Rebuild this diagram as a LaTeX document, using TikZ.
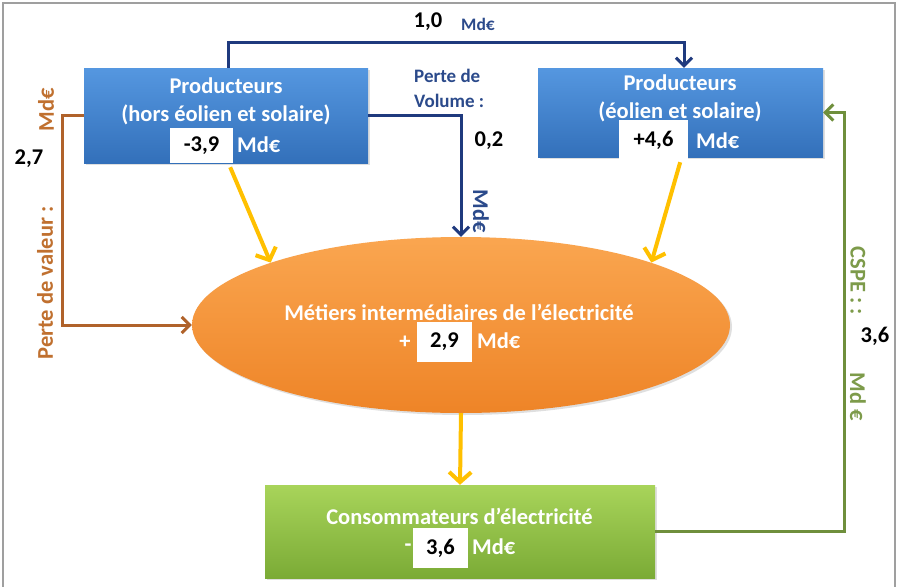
\documentclass[tikz,border=0pt]{standalone}
\usepackage{fontspec}
\setmainfont{Carlito}
\usetikzlibrary{arrows.meta,shapes.geometric,shadows}
\definecolor{navy}{HTML}{1F3A7E}
\definecolor{navytext}{HTML}{2B4A8B}
\definecolor{brownline}{HTML}{B0622A}
\definecolor{browntext}{HTML}{C0702F}
\definecolor{oliveline}{HTML}{6F8F3C}
\definecolor{olivetext}{HTML}{7D9B4A}
\definecolor{gold}{HTML}{FFC000}
\definecolor{blueT}{HTML}{5597E0}
\definecolor{blueB}{HTML}{3370BA}
\definecolor{orangeT}{HTML}{FAA650}
\definecolor{orangeB}{HTML}{EE8427}
\definecolor{greenT}{HTML}{A8D45A}
\definecolor{greenB}{HTML}{7BAB36}
\tikzset{
  shad/.style={drop shadow={opacity=0.25,shadow xshift=2pt,shadow yshift=-2pt}},
  bluebox/.style={rectangle,draw=none,top color=blueT,bottom color=blueB,shad},
  valbox/.style={rectangle,fill=white,draw=none,text=black,inner sep=0pt},
  wtxt/.style={text=white,inner sep=0pt},
  navyline/.style={draw=navy,line width=3pt},
  brownln/.style={draw=brownline,line width=3pt},
  oliveln/.style={draw=oliveline,line width=3pt},
  yarrow/.style={draw=gold,line width=4pt,-{Straight Barb[length=10pt,width=22pt]}},
  ltip/.style={-{Straight Barb[length=8pt,width=16pt]}},
  lbl/.style={inner sep=0pt},
}
\begin{document}
\begin{tikzpicture}[x=1pt,y=-1pt,font=\bfseries\fontsize{22.5}{26}\selectfont]
\useasboundingbox (0,0) rectangle (898,587);
\fill[white] (0,0) rectangle (898,587);
\draw[gray!75,line width=1.5pt] (3,590) -- (3,3) -- (895,3) -- (895,590);

% shapes
\node[bluebox,minimum width=284pt,minimum height=95pt] (L) at (226,115.5) {};
\node[bluebox,minimum width=285pt,minimum height=89pt] (R) at (680.5,112.5) {};
\node[ellipse,draw=none,top color=orangeT,bottom color=orangeB,shad,
      minimum width=538pt,minimum height=176pt] (E) at (461,325) {};
\node[rectangle,draw=none,top color=greenT,bottom color=greenB,shad,
      minimum width=390pt,minimum height=93pt] (G) at (460,531.5) {};

% texts in left box
\node[wtxt] (Lt1) at (226,86) {Producteurs};
\node[wtxt] (Lt2) at (226,115) {(hors éolien et solaire)};
\node[valbox,minimum width=63pt,minimum height=35pt] (v1) at (201.5,145.5) {-3,9};
\node[wtxt,anchor=west] (Lmd) at (237,145) {Md€};

% texts in right box
\node[wtxt] (Rt1) at (680,83) {Producteurs};
\node[wtxt] (Rt2) at (680,112) {(éolien et solaire)};
\node[valbox,minimum width=69pt,minimum height=40pt] (v2) at (653.5,140) {+4,6};
\node[wtxt,anchor=west] (Rmd) at (696,141) {Md€};

% texts in ellipse
\node[wtxt] (Et1) at (459,312) {Métiers intermédiaires de l’électricité};
\node[wtxt] (Eplus) at (405,342) {+};
\node[valbox,minimum width=55pt,minimum height=40pt] (v3) at (444.5,342) {2,9};
\node[wtxt,anchor=west] (Emd) at (477,341) {Md€};

% texts in green box
\node[wtxt] (Gt1) at (459.5,516) {Consommateurs d’électricité};
\node[wtxt] (Gminus) at (408,548) {-};
\node[valbox,minimum width=55pt,minimum height=40pt] (v4) at (440.5,548) {3,6};
\node[wtxt,anchor=west] (Gmd) at (472,547) {Md€};

% navy connectors
\draw[navyline,ltip] ([xshift=2pt]L.north) -- ++(0,-25) -| ([xshift=3.5pt]R.north);
\draw[navyline,ltip] (L.east) -| (E.north);
\node[lbl] (n10) at (428,22) {1,0};
\node[lbl,text=navytext,font=\bfseries\fontsize{17.5}{20}\selectfont] (n10md) at (478,24) {Md€};
\node[lbl,text=navytext,anchor=west,font=\bfseries\fontsize{19}{22}\selectfont] (pv1) at (414,76) {Perte de};
\node[lbl,text=navytext,anchor=west,font=\bfseries\fontsize{19}{22}\selectfont] (pv2) at (414,101) {Volume :};
\node[lbl] (n02) at (489,141) {0,2};
\node[lbl,text=navytext,rotate=-90] (n02md) at (481,211) {Md€};

% brown connector
\draw[brownln,ltip] (L.west) -- ++(-21,0) |- (E.west);
\node[lbl,text=browntext,rotate=90] (b27md) at (46,110) {Md€};
\node[lbl] (b27) at (29,159) {2,7};
\node[lbl,text=browntext,rotate=90] (bpv) at (45,283) {Perte de valeur :};

% olive connector
\coordinate (gc) at (844,0);
\draw[oliveln,ltip] (G.east) -| (gc |- R.east) -- (R.east);
\node[lbl,text=olivetext,rotate=-90] (cspe) at (858,281) {CSPE : :};
\node[lbl] (c36) at (875,336) {3,6};
\node[lbl,text=olivetext,rotate=-90] (c36md) at (858,397) {Md €};

% gold arrows
\draw[yarrow] ([shift={(-3,4)}]v1.south east) -- (E.north west);
\draw[yarrow] ([shift={(-8,2)}]v2.south east) -- (E.north east);
\draw[yarrow] (E.south) -- (G.north);
\end{tikzpicture}
\end{document}
